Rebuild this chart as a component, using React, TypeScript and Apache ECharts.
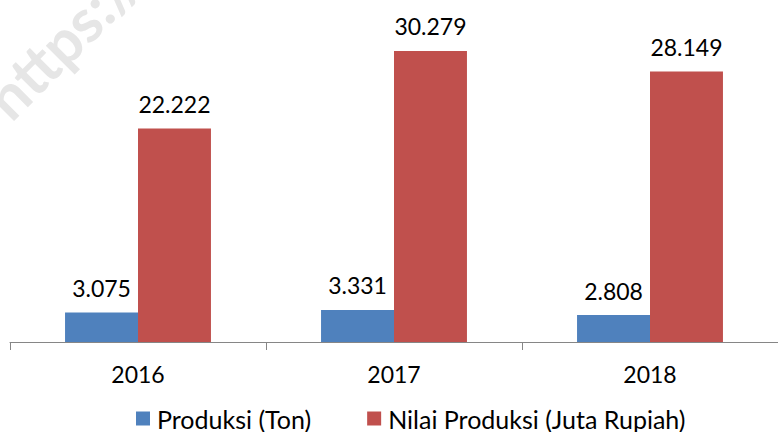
import React, { useEffect, useRef } from "react";
import * as echarts from "echarts";

const categories = ["2016", "2017", "2018"];
const produksiTon = [3.075, 3.331, 2.808];
const nilaiProduksi = [22.222, 30.279, 28.149];
const seriesNames = ["Produksi (Ton)", "Nilai Produksi (Juta Rupiah)"];

const FONT = "Lato, 'Open Sans', sans-serif";

const fmt = (v: number) => v.toFixed(3);

export default function App() {
  const ref = useRef<HTMLDivElement>(null);
  useEffect(() => {
    document.body.style.margin = "0";
    if (!ref.current) return;
    const chart = echarts.init(ref.current, null, { renderer: "svg" });
    const labelStyle = {
      show: true,
      position: "top" as const,
      distance: 13,
      fontSize: 23,
      fontFamily: FONT,
      color: "#000",
      formatter: (p: any) => fmt(p.value),
    };
    chart.setOption({
      animation: false,
      textStyle: { fontFamily: FONT },
      graphic: [
        {
          type: "text",
          x: -26,
          y: 86,
          rotation: Math.PI / 4,
          silent: true,
          z: -10,
          style: {
            text: "https://",
            fontSize: 60,
            fontWeight: "bold",
            fontFamily: FONT,
            fill: "#e6e6e6",
          },
        },
      ],
      legend: {
        left: 136,
        top: 406,
        padding: 0,
        itemWidth: 14,
        itemHeight: 14,
        itemGap: 56,
        icon: "rect",
        textStyle: { fontSize: 25, fontFamily: FONT, color: "#000", padding: [0, 0, 0, 2] },
        data: seriesNames,
      },
      grid: { left: 10, right: -5, top: 5.6, bottom: 90, containLabel: false },
      xAxis: {
        type: "category",
        data: categories,
        axisLine: { show: true, lineStyle: { color: "#868686", width: 1 } },
        axisTick: { show: true, length: 8, lineStyle: { color: "#868686" } },
        axisLabel: { fontSize: 23, fontFamily: FONT, color: "#000", margin: 20 },
      },
      yAxis: {
        type: "value",
        min: 0,
        max: 35,
        show: false,
        splitLine: { show: false },
      },
      series: [
        {
          name: seriesNames[0],
          type: "bar",
          data: produksiTon,
          barGap: "0%",
          barCategoryGap: "43%",
          itemStyle: { color: "#4F81BD" },
          label: labelStyle,
        },
        {
          name: seriesNames[1],
          type: "bar",
          data: nilaiProduksi,
          barGap: "0%",
          barCategoryGap: "43%",
          itemStyle: { color: "#C0504D" },
          label: labelStyle,
        },
      ],
    });
    return () => chart.dispose();
  }, []);
  return <div ref={ref} style={{ width: 778, height: 432 }} />;
}
